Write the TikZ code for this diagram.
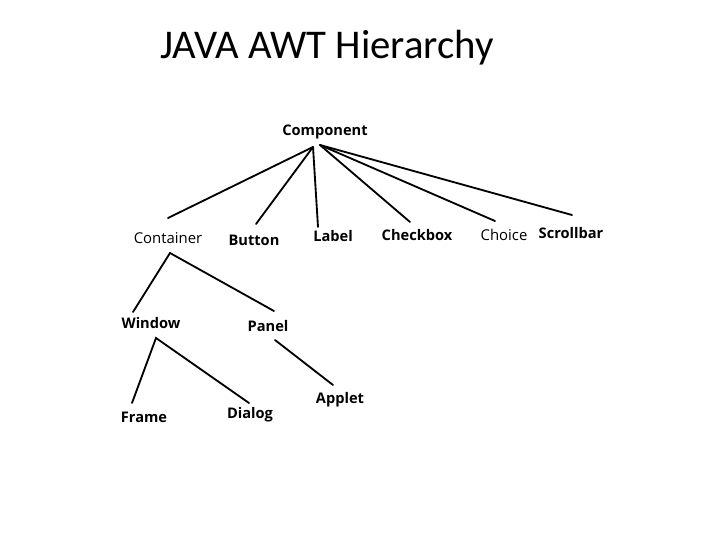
\documentclass[tikz,border=0pt]{standalone}
\usepackage{fontspec}
\setmainfont{Open Sans}
\newfontfamily\titlefont{Carlito}
\usepackage{tikz}

\begin{document}
\begin{tikzpicture}[x=0.025cm, y=-0.025cm,
  cls/.style={inner sep=0pt, font=\fontsize{10.4}{12}\selectfont\bfseries},
  clsthin/.style={cls, font=\fontsize{10.6}{12}\selectfont},
  link/.style={line width=1.3pt, line cap=round}]
\useasboundingbox (0,0) rectangle (720,540);

%% title
\node[anchor=base, inner sep=0pt, font=\titlefont\fontsize{29}{34}\selectfont](title) at (327,58) {JAVA AWT Hierarchy};

%% classes
\node[cls](comp) at (325,132) {Component};

\node[clsthin](cont) at (168,238) {Container};
\node[cls](btn) at (254,240) {Button};
\node[cls](lbl) at (333,236) {Label};
\node[cls](chk) at (417,235) {Checkbox};
\node[clsthin](choice) at (504,235) {Choice};
\node[cls](scroll) at (571,233) {Scrollbar};

\node[cls](win) at (151,323) {Window};
\node[cls](panel) at (268,326) {Panel};

\node[cls](frame) at (144,417) {Frame};
\node[cls](dialog) at (250,415) {Dialog};
\node[cls](applet) at (340,400) {Applet};

%% line ends
\coordinate (compL) at (313,147);
\coordinate (compR) at (320,145);
\coordinate (contT) at (168,218);
\coordinate (btnT) at (256,224);
\coordinate (lblT) at (318,227);
\coordinate (chkT) at (410,222);
\coordinate (choiceT) at (495,221);
\coordinate (scrollT) at (572,215);

\coordinate (contB) at (170,253);
\coordinate (winT) at (133,312);
\coordinate (panelT) at (274,311);

\coordinate (winB) at (156,338);
\coordinate (frameT) at (132,403);
\coordinate (dialogT) at (249,403);

\coordinate (panelB) at (275,340);
\coordinate (appletT) at (333,385);

%% edges
\draw[link] (compL) -- (contT);
\draw[link] (compL) -- (btnT);
\draw[link] (compL) -- (lblT);
\draw[link] (compR) -- (chkT);
\draw[link] (compR) -- (choiceT);
\draw[link] (compR) -- (scrollT);

\draw[link] (winT) -- (contB) -- (panelT);
\draw[link] (frameT) -- (winB) -- (dialogT);
\draw[link] (panelB) -- (appletT);

\end{tikzpicture}
\end{document}
